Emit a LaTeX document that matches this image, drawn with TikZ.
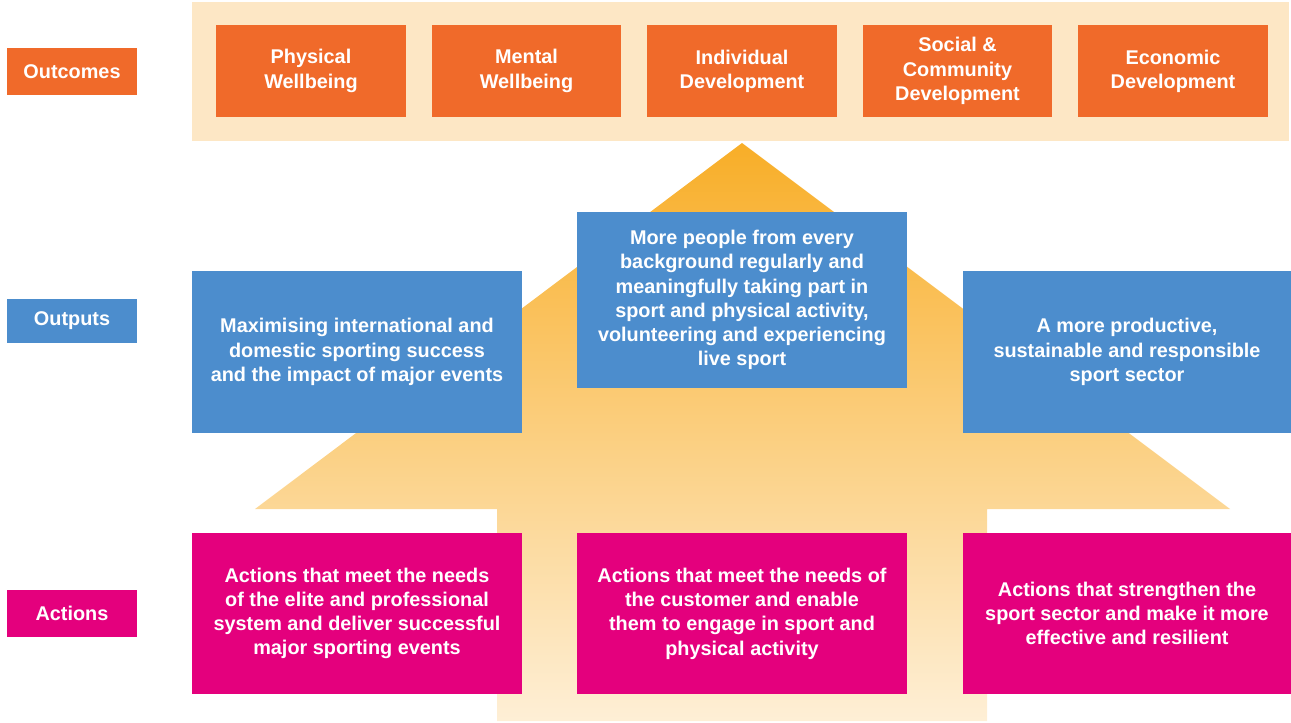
\documentclass[tikz,border=0pt]{standalone}
\usepackage{fontspec}
\setmainfont{Liberation Sans}
\usepackage{tikz}
\definecolor{outorange}{RGB}{240,106,42}
\definecolor{outblue}{RGB}{76,141,205}
\definecolor{actpink}{RGB}{228,0,125}
\definecolor{bandpeach}{RGB}{253,231,197}
\definecolor{arrowtop}{RGB}{248,174,40}
\definecolor{arrowmid}{RGB}{250,200,105}
\definecolor{arrowbot}{RGB}{254,239,214}

\begin{document}
\begin{tikzpicture}[x=0.02cm, y=-0.02cm,
		box/.style={inner sep=0pt, align=center, text=white, font=\bfseries\fontsize{11.3}{13.8}\selectfont},
		tag/.style={box, minimum width=2.6cm, minimum height=0.92cm}]
			\useasboundingbox (0,0) rectangle (1291,723);
			
			% outcomes band
			\fill[bandpeach] (192,2) rectangle (1289,141);
			\foreach \i/\name/\txt in {0/physical/{Physical\\Wellbeing}, 1/mental/{Mental\\Wellbeing}, 2/individual/{Individual\\Development}, 3/social/{Social \&\\Community\\Development}, 4/economic/{Economic\\Development}}
				\node[box, fill=outorange, minimum width=3.8cm, minimum height=1.84cm] (\name) at (311+215.5*\i,71) {\txt};
			
			% big arrow
			\shade[top color=arrowtop, middle color=arrowmid, bottom color=arrowbot] (742,143) -- (1230,509) -- (987,509) -- (987,721) -- (497,721) -- (497,509) -- (255,509) -- cycle;
			
			% outputs
			\node[box, fill=outblue, minimum width=6.6cm, minimum height=3.24cm] (sporting) at (357,352) {Maximising international and\\domestic sporting success\\and the impact of major events};
			\node[box, fill=outblue, minimum width=6.6cm, minimum height=3.52cm] (people) at (742,300) {More people from every\\background regularly and\\meaningfully taking part in\\sport and physical activity,\\volunteering and experiencing\\live sport};
			\node[box, fill=outblue, minimum width=6.56cm, minimum height=3.24cm] (sector) at (1127,352) {A more productive,\\sustainable and responsible\\sport sector};
			
			% actions
			\node[box, fill=actpink, minimum width=6.6cm, minimum height=3.22cm] (elite) at (357,613.5) {Actions that meet the needs\\of the elite and professional\\system and deliver successful\\major sporting events};
			\node[box, fill=actpink, minimum width=6.6cm, minimum height=3.22cm] (customer) at (742,613.5) {Actions that meet the needs of\\the customer and enable\\them to engage in sport and\\physical activity};
			\node[box, fill=actpink, minimum width=6.56cm, minimum height=3.22cm] (strengthen) at (1127,613.5) {Actions that strengthen the\\sport sector and make it more\\effective and resilient};
			
			% row labels
			\node[tag, fill=outorange, minimum height=0.94cm] (outcomes) at (72,71.5) {Outcomes};
			\node[tag, fill=outblue, minimum height=0.9cm] (outputs) at (72,321) {Outputs};
			\node[tag, fill=actpink, minimum height=0.94cm] (actions) at (72,613.5) {Actions};
		\end{tikzpicture}
\end{document}
